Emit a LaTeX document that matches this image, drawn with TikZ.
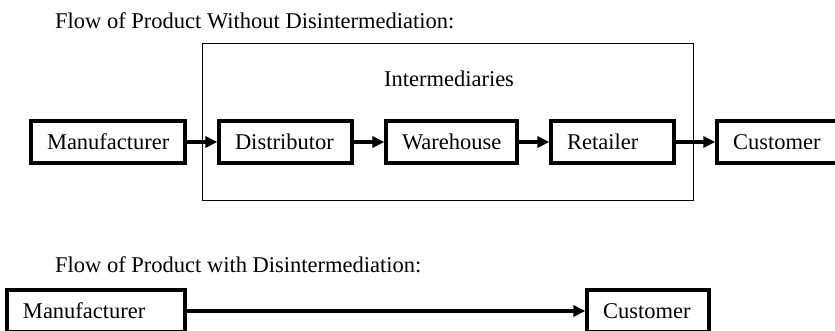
\documentclass[tikz,border=0pt]{standalone}
\usepackage{fontspec}
\setmainfont{Liberation Serif}
\usetikzlibrary{arrows.meta}

\begin{document}
\begin{tikzpicture}[x=1pt,y=1pt,
  every node/.style={font=\fontsize{22.5}{27}\selectfont},
  stage/.style={draw, line width=3.2pt, minimum height=42pt, inner xsep=16pt,
                inner ysep=0pt, align=left},
  flow/.style={line width=3.2pt, -{Triangle[length=12pt,width=11pt]}},
  heading/.style={anchor=base west, inner sep=0pt}]
\useasboundingbox (0,0) rectangle (835,-330);

% Titles
\node[heading] (t1) at (55,-28) {Flow of Product Without Disintermediation:};
\node[heading] (t2) at (55,-272.7) {Flow of Product with Disintermediation:};

% Intermediaries frame
\node[draw, line width=1pt, minimum width=491pt, minimum height=157pt,
      inner sep=0pt] (inter) at (447.5,-122) {};
\node[anchor=base, inner sep=0pt] (interlabel) at (449,-86) {Intermediaries};

% Chain with intermediaries
\node[stage, minimum width=154pt, text width=122pt] (man1) at (108,-142) {Manufacturer};
\node[stage, minimum width=133pt, text width=101pt] (dist) at (285.5,-142) {Distributor};
\node[stage, minimum width=131pt, text width=99pt] (ware) at (451.5,-142) {Warehouse};
\node[stage, minimum width=123pt, text width=91pt] (ret) at (612.5,-142) {Retailer};
\node[stage, minimum width=124pt, text width=92pt] (cus1) at (779,-142) {Customer};

\draw[flow] (man1) -- (dist);
\draw[flow] (dist) -- (ware);
\draw[flow] (ware) -- (ret);
\draw[flow] (ret) -- (cus1);

% Direct chain
\node[stage, minimum width=178pt, text width=146pt] (man2) at (96,-311) {Manufacturer};
\node[stage, minimum width=122pt, text width=90pt] (cus2) at (648,-311) {Customer};

\draw[flow] (man2) -- (cus2);
\end{tikzpicture}
\end{document}
